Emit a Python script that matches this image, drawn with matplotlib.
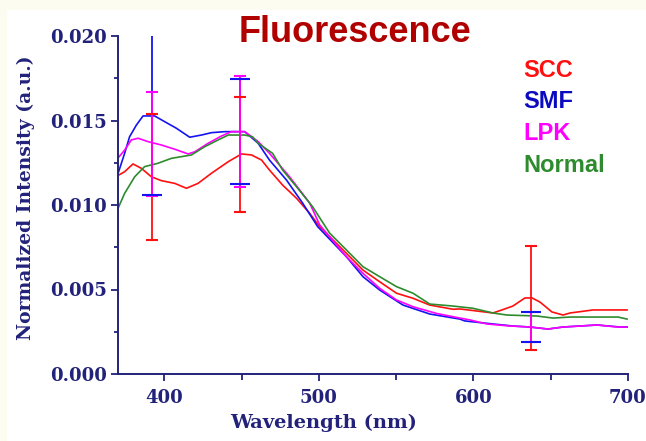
import numpy as np
import matplotlib.pyplot as plt
from matplotlib.patches import Rectangle

# spectra (wavelength in nm, normalized intensity)
scc_x = [369.5, 374.3, 379.7, 385.1, 391.6, 398.1, 406.7, 414.3, 421.8, 430.5, 441.3, 449.9,
         456.4, 462.9, 468.0, 476.5, 485.5, 494.0, 500.5, 517.8, 528.5, 539.3, 550.2, 560.9,
         571.7, 586.8, 591.2, 612.6, 618.4, 625.5, 633.3, 637.9, 643.0, 650.8, 658.0, 662.5,
         677.4, 699.4]
scc_y = [0.01172, 0.01197, 0.01243, 0.01217, 0.01167, 0.01144, 0.01128, 0.01099, 0.01128,
         0.01188, 0.01256, 0.01302, 0.01296, 0.01266, 0.01207, 0.01118, 0.01040, 0.00951,
         0.00872, 0.00714, 0.00615, 0.00546, 0.00478, 0.00448, 0.00408, 0.00383, 0.00385,
         0.00361, 0.00379, 0.00402, 0.00450, 0.00450, 0.00426, 0.00367, 0.00349, 0.00361,
         0.00379, 0.00379]

smf_x = [370.4, 374.3, 377.5, 381.9, 386.2, 393.7, 400.2, 407.8, 416.4, 424.0, 430.5, 439.1,
         452.0, 460.7, 468.0, 479.0, 489.4, 499.2, 517.8, 528.5, 539.3, 554.4, 571.7, 591.2,
         594.4, 612.6, 625.5, 636.6, 648.2, 658.0, 680.0, 694.9, 699.4]
smf_y = [0.01197, 0.01306, 0.01404, 0.01473, 0.01527, 0.01527, 0.01493, 0.01454, 0.01401,
         0.01414, 0.01428, 0.01434, 0.01434, 0.01365, 0.01266, 0.01148, 0.01012, 0.00872,
         0.00694, 0.00576, 0.00497, 0.00408, 0.00355, 0.00325, 0.00314, 0.00296, 0.00284,
         0.00278, 0.00266, 0.00278, 0.00290, 0.00278, 0.00278]

lpk_x = [368.9, 374.3, 378.6, 383.0, 389.4, 398.1, 406.7, 415.4, 419.7, 428.3, 436.9, 443.4,
         452.0, 460.7, 468.0, 481.0, 494.0, 500.5, 517.8, 528.5, 539.3, 550.2, 560.9, 576.3,
         591.2, 597.7, 608.7, 623.6, 636.6, 648.2, 658.0, 680.0, 693.0, 699.4]
lpk_y = [0.01266, 0.01325, 0.01385, 0.01395, 0.01375, 0.01355, 0.01330, 0.01302, 0.01315,
         0.01365, 0.01408, 0.01434, 0.01434, 0.01375, 0.01306, 0.01167, 0.01012, 0.00882,
         0.00694, 0.00596, 0.00507, 0.00438, 0.00398, 0.00358, 0.00331, 0.00320, 0.00296,
         0.00284, 0.00278, 0.00266, 0.00278, 0.00290, 0.00278, 0.00278]

normal_x = [369.5, 374.3, 380.8, 387.2, 395.9, 404.5, 417.5, 426.1, 434.8, 441.3, 452.0, 457.0,
            460.7, 470.0, 476.5, 485.5, 495.9, 506.9, 517.8, 528.5, 539.3, 550.2, 560.9, 571.7,
            586.8, 599.6, 612.6, 621.6, 641.1, 651.5, 662.5, 693.6, 699.4]
normal_y = [0.00970, 0.01069, 0.01167, 0.01227, 0.01247, 0.01276, 0.01296, 0.01345, 0.01385,
            0.01414, 0.01414, 0.01404, 0.01365, 0.01306, 0.01207, 0.01108, 0.00990, 0.00834,
            0.00734, 0.00635, 0.00576, 0.00517, 0.00478, 0.00414, 0.00402, 0.00389, 0.00361,
            0.00349, 0.00343, 0.00331, 0.00337, 0.00337, 0.00325]

# error bars (lower, upper)
err_x = [392, 449, 637]
scc_err = [0.0037, 0.0034, 0.0031]
smf_err_lo = [0.0047, 0.0031, 0.0009]
smf_err_hi = [0.0050, 0.0031, 0.0009]
lpk_err_lo = [0.00315, 0.0033, 0.0009]
lpk_err_hi = [0.0030, 0.0033, 0.0009]

c_red = '#ff1010'
c_blue = '#1414f0'
c_mag = '#ff00ff'
c_green = '#2e8b2e'
navy = '#22227a'

fig = plt.figure(figsize=(6.46, 4.41), dpi=100, facecolor='#fcfcf1')
fig.patches.append(Rectangle((7 / 646, 0), 1, 1 - 10 / 441, transform=fig.transFigure,
                             facecolor='white', edgecolor='none', zorder=-10))

ax = fig.add_axes([118 / 646, 1 - 374 / 441, 510 / 646, 338 / 441])
ax.set_facecolor('none')

ax.plot(scc_x, scc_y, color=c_red, lw=1.2, zorder=2)
ax.plot(smf_x, smf_y, color=c_blue, lw=1.2, zorder=2)
ax.plot(lpk_x, lpk_y, color=c_mag, lw=1.2, zorder=2)
ax.plot(normal_x, normal_y, color=c_green, lw=1.2, zorder=2)

# error bars at three wavelengths, centred on the interpolated curve values
def bars(xs, ys, yerr, color, capsize, zbar, zcap):
    cy = np.interp(err_x, xs, ys)
    _, caps, lines = ax.errorbar(err_x, cy, yerr=yerr, fmt='none', ecolor=color,
                                 elinewidth=1.3, capsize=capsize, capthick=1.5)
    for c in caps:
        c.set_zorder(zcap)
    for l in lines:
        l.set_zorder(zbar)

bars(smf_x, smf_y, [smf_err_lo, smf_err_hi], c_blue, 7.5, 3, 6)
bars(scc_x, scc_y, scc_err, c_red, 4.2, 3.5, 5)
bars(lpk_x, lpk_y, [lpk_err_lo, lpk_err_hi], c_mag, 4.5, 4, 4.5)

ax.set_xlim(370, 700)
ax.set_ylim(0, 0.020)
ax.set_xticks([400, 500, 600, 700])
ax.set_xticks([450, 550, 650], minor=True)
ax.set_yticks(np.arange(0, 0.0201, 0.005))
ax.set_yticks(np.arange(0.0025, 0.02, 0.005), minor=True)
ax.set_yticklabels(['0.000', '0.005', '0.010', '0.015', '0.020'])

for s in ['top', 'right']:
    ax.spines[s].set_visible(False)
for s in ['left', 'bottom']:
    ax.spines[s].set_color(navy)
    ax.spines[s].set_linewidth(1.4)

ax.tick_params(axis='both', which='both', color=navy, width=1.3, direction='out')
ax.tick_params(axis='y', which='major', length=5, pad=3)
ax.tick_params(axis='y', which='minor', length=3)
ax.tick_params(axis='x', which='major', length=5, pad=6)
ax.tick_params(axis='x', which='minor', length=4)
for lab in ax.get_xticklabels() + ax.get_yticklabels():
    lab.set_fontfamily('DejaVu Serif')
    lab.set_fontweight('bold')
    lab.set_fontsize(13)
    lab.set_color(navy)

ax.set_xlabel('Wavelength (nm)', fontfamily='DejaVu Serif', fontweight='bold',
              fontsize=14, color=navy)
ax.xaxis.set_label_coords(0.403, -0.118)
ax.set_ylabel('Normalized Intensity (a.u.)', fontfamily='DejaVu Serif', fontweight='bold',
              fontsize=13.5, color=navy)
ax.yaxis.set_label_coords(-0.163, 0.52)

fig.text(355 / 646, 1 - 42 / 441, 'Fluorescence', fontfamily='Liberation Sans',
         fontweight='bold', fontsize=26, color='#b00000', ha='center', va='baseline')

names = ['SCC', 'SMF', 'LPK', 'Normal']
name_colors = [c_red, '#0a0ac0', c_mag, c_green]
baselines = [77, 108, 140, 171.5]
for n, c, b in zip(names, name_colors, baselines):
    fig.text(523 / 646, 1 - b / 441, n, fontfamily='Liberation Sans', fontweight='bold',
             fontsize=17, color=c, ha='left', va='baseline')

fig.savefig('out.png', dpi=100, facecolor=fig.get_facecolor())
